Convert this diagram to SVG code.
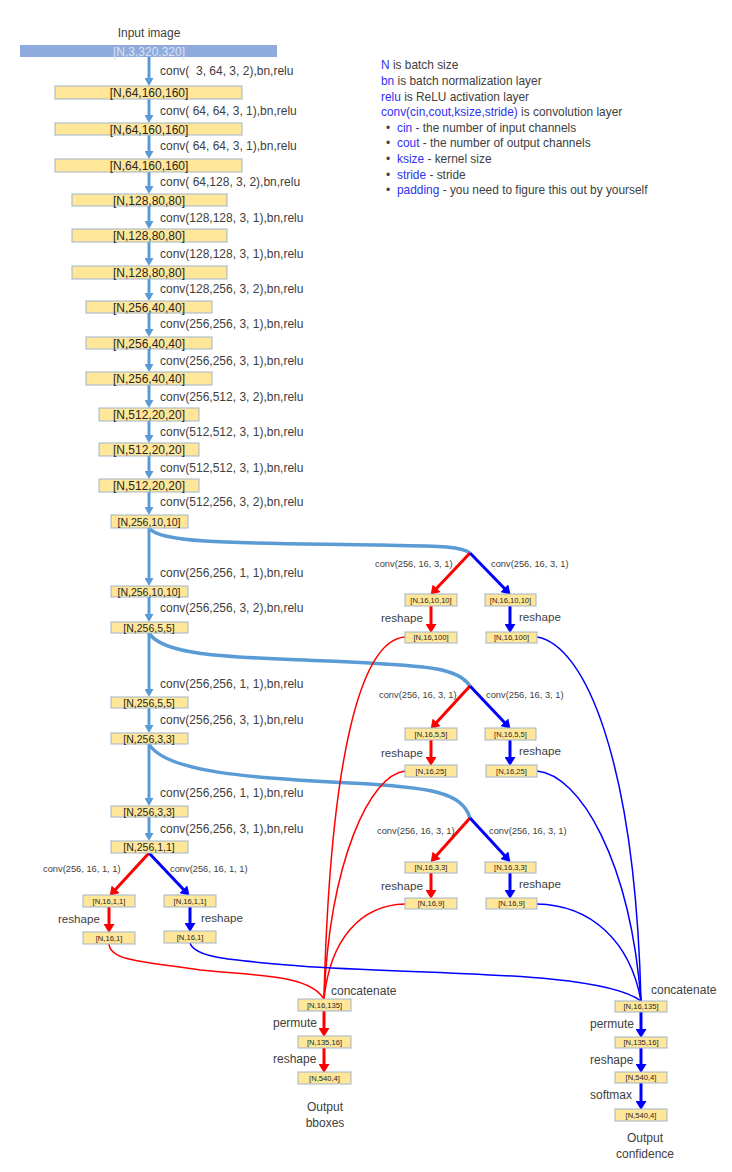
<svg xmlns="http://www.w3.org/2000/svg" width="732" height="1172" viewBox="0 0 732 1172">
  <style>
    text { font-family: "Liberation Sans", Arial, sans-serif; fill: #404040; }
    .box { fill: #ffe699; stroke: #9fb5cc; stroke-width: 1; }
    .bt { font-size: 12px; text-anchor: middle; fill: #262626; }
    .bm { font-size: 10.5px; text-anchor: middle; fill: #262626; }
    .bs { font-size: 7.6px; text-anchor: middle; fill: #262626; }
    .lbl { font-size: 12px; white-space: pre; }
    .sm { font-size: 9.3px; }
    .op { font-size: 11.6px; }
    .leg { font-size: 11.9px; }
    .hl { fill: #3030f0; }
    .trunk { stroke: #5b9bd5; stroke-width: 3; fill: none; marker-end: url(#hLb); }
    .sweep { stroke: #5b9bd5; stroke-width: 3.5; fill: none; }
    .ra { stroke: #ff0000; stroke-width: 3; fill: none; marker-end: url(#hR); }
    .ba { stroke: #0000ff; stroke-width: 3; fill: none; marker-end: url(#hB); }
    .rc { stroke: #ff0000; stroke-width: 1.5; fill: none; }
    .bc { stroke: #0000ff; stroke-width: 1.5; fill: none; }
  </style>
  <defs>
    <marker id="hLb" markerUnits="userSpaceOnUse" markerWidth="9" markerHeight="9" refX="1" refY="4.5" orient="auto">
      <path d="M0,0 L8,4.5 L0,9 z" fill="#5b9bd5"/>
    </marker>
    <marker id="hR" markerUnits="userSpaceOnUse" markerWidth="11" markerHeight="11" refX="1" refY="5.5" orient="auto">
      <path d="M0,0 L9,5.5 L0,11 z" fill="#ff0000"/>
    </marker>
    <marker id="hB" markerUnits="userSpaceOnUse" markerWidth="11" markerHeight="11" refX="1" refY="5.5" orient="auto">
      <path d="M0,0 L9,5.5 L0,11 z" fill="#0000ff"/>
    </marker>
  </defs>
  <rect width="732" height="1172" fill="#ffffff"/>

  <!-- legend -->
  <g id="legend" class="leg">
    <text x="381" y="69"><tspan class="hl">N</tspan> is batch size</text>
    <text x="381" y="85"><tspan class="hl">bn</tspan> is batch normalization layer</text>
    <text x="381" y="101"><tspan class="hl">relu</tspan> is ReLU activation layer</text>
    <text x="381" y="116"><tspan class="hl">conv(cin,cout,ksize,stride)</tspan> is convolution layer</text>
    <text x="386" y="132">•</text><text x="397" y="132"><tspan class="hl">cin</tspan> - the number of input channels</text>
    <text x="386" y="147">•</text><text x="397" y="147"><tspan class="hl">cout</tspan> - the number of output channels</text>
    <text x="386" y="163">•</text><text x="397" y="163"><tspan class="hl">ksize</tspan> - kernel size</text>
    <text x="386" y="179">•</text><text x="397" y="179"><tspan class="hl">stride</tspan> - stride</text>
    <text x="386" y="194">•</text><text x="397" y="194"><tspan class="hl">padding</tspan> - you need to figure this out by yourself</text>
  </g>

  <!-- connectors -->
  <g id="connectors">
    <!-- backbone -->
    <line class="trunk" x1="149" y1="57" x2="149" y2="79"/>
    <line class="trunk" x1="149" y1="99" x2="149" y2="116"/>
    <line class="trunk" x1="149" y1="135" x2="149" y2="152"/>
    <line class="trunk" x1="149" y1="172" x2="149" y2="187"/>
    <line class="trunk" x1="149" y1="206" x2="149" y2="222"/>
    <line class="trunk" x1="149" y1="242" x2="149" y2="259"/>
    <line class="trunk" x1="149" y1="279" x2="149" y2="294"/>
    <line class="trunk" x1="149" y1="313" x2="149" y2="330"/>
    <line class="trunk" x1="149" y1="349" x2="149" y2="365"/>
    <line class="trunk" x1="149" y1="385" x2="149" y2="401"/>
    <line class="trunk" x1="149" y1="421" x2="149" y2="436"/>
    <line class="trunk" x1="149" y1="456" x2="149" y2="472"/>
    <line class="trunk" x1="149" y1="492" x2="149" y2="508"/>
    <line class="trunk" x1="149" y1="528" x2="149" y2="579"/>
    <line class="trunk" x1="149" y1="597" x2="149" y2="615"/>
    <line class="trunk" x1="149" y1="633" x2="149" y2="690"/>
    <line class="trunk" x1="149" y1="708" x2="149" y2="726"/>
    <line class="trunk" x1="149" y1="744" x2="149" y2="799"/>
    <line class="trunk" x1="149" y1="817" x2="149" y2="834"/>

    <!-- side sweeps to heads -->
    <path class="sweep" d="M149,528 C160,545 260,543 380,545 C440,546 462,546 470,553"/>
    <path class="sweep" d="M149,633 C165,660 260,657 350,662 C430,666 458,668 470,686"/>
    <path class="sweep" d="M149,744 C165,772 250,778 350,783 C430,787 462,792 470,818"/>

    <!-- head branches -->
    <line class="ra" x1="470" y1="553" x2="436" y2="589"/>
    <line class="ba" x1="470" y1="553" x2="505" y2="589"/>
    <line class="ra" x1="431" y1="606" x2="431" y2="625"/>
    <line class="ba" x1="510" y1="606" x2="510" y2="625"/>

    <line class="ra" x1="470" y1="686" x2="436" y2="723"/>
    <line class="ba" x1="470" y1="686" x2="505" y2="723"/>
    <line class="ra" x1="431" y1="740" x2="431" y2="758"/>
    <line class="ba" x1="510" y1="740" x2="510" y2="758"/>

    <line class="ra" x1="470" y1="818" x2="436" y2="856"/>
    <line class="ba" x1="470" y1="818" x2="505" y2="856"/>
    <line class="ra" x1="431" y1="873" x2="431" y2="891"/>
    <line class="ba" x1="510" y1="873" x2="510" y2="891"/>

    <line class="ra" x1="149" y1="853" x2="115" y2="890"/>
    <line class="ba" x1="149" y1="853" x2="184" y2="890"/>
    <line class="ra" x1="109" y1="907" x2="109" y2="925"/>
    <line class="ba" x1="190" y1="907" x2="190" y2="924"/>

    <!-- gather to concatenation -->
    <path class="rc" d="M405,637 C360,640 330,760 324,999"/>
    <path class="rc" d="M405,771 C370,775 330,860 324,999"/>
    <path class="rc" d="M405,904 C360,905 330,940 324,999"/>
    <path class="rc" d="M109,944 C110,962 150,962 200,970 C260,976 310,975 324,999"/>
    <path class="bc" d="M537,637 C585,645 635,760 641,1001"/>
    <path class="bc" d="M537,771 C580,775 630,860 641,1001"/>
    <path class="bc" d="M537,904 C590,905 630,940 641,1001"/>
    <path class="bc" d="M190,943 C195,958 230,960 300,966 C420,975 600,970 641,1001"/>

    <!-- output chains -->
    <line class="ra" x1="324" y1="1011" x2="324" y2="1029"/>
    <line class="ra" x1="324" y1="1048" x2="324" y2="1065"/>
    <line class="ba" x1="641" y1="1012" x2="641" y2="1030"/>
    <line class="ba" x1="641" y1="1048" x2="641" y2="1065"/>
    <line class="ba" x1="641" y1="1083" x2="641" y2="1102"/>
  </g>

  <!-- operation labels -->
  <g id="op-labels" class="lbl">
    <text x="160" y="75" xml:space="preserve">conv(  3, 64, 3, 2),bn,relu</text>
    <text x="160" y="115">conv( 64, 64, 3, 1),bn,relu</text>
    <text x="160" y="150">conv( 64, 64, 3, 1),bn,relu</text>
    <text x="160" y="186">conv( 64,128, 3, 2),bn,relu</text>
    <text x="160" y="222">conv(128,128, 3, 1),bn,relu</text>
    <text x="160" y="258">conv(128,128, 3, 1),bn,relu</text>
    <text x="160" y="293">conv(128,256, 3, 2),bn,relu</text>
    <text x="160" y="328">conv(256,256, 3, 1),bn,relu</text>
    <text x="160" y="365">conv(256,256, 3, 1),bn,relu</text>
    <text x="160" y="401">conv(256,512, 3, 2),bn,relu</text>
    <text x="160" y="436">conv(512,512, 3, 1),bn,relu</text>
    <text x="160" y="472">conv(512,512, 3, 1),bn,relu</text>
    <text x="160" y="506">conv(512,256, 3, 2),bn,relu</text>
    <text x="160" y="577">conv(256,256, 1, 1),bn,relu</text>
    <text x="160" y="612">conv(256,256, 3, 2),bn,relu</text>
    <text x="160" y="688">conv(256,256, 1, 1),bn,relu</text>
    <text x="160" y="724">conv(256,256, 3, 1),bn,relu</text>
    <text x="160" y="797">conv(256,256, 1, 1),bn,relu</text>
    <text x="160" y="833">conv(256,256, 3, 1),bn,relu</text>

    <text class="sm" x="375" y="567">conv(256, 16, 3, 1)</text>
    <text class="sm" x="491" y="567">conv(256, 16, 3, 1)</text>
    <text class="sm" x="379" y="698">conv(256, 16, 3, 1)</text>
    <text class="sm" x="486" y="698">conv(256, 16, 3, 1)</text>
    <text class="sm" x="377" y="834">conv(256, 16, 3, 1)</text>
    <text class="sm" x="489" y="834">conv(256, 16, 3, 1)</text>
    <text class="sm" x="43" y="872">conv(256, 16, 1, 1)</text>
    <text class="sm" x="170" y="872">conv(256, 16, 1, 1)</text>

    <text class="op" x="381" y="622">reshape</text>
    <text class="op" x="519" y="621">reshape</text>
    <text class="op" x="381" y="757">reshape</text>
    <text class="op" x="519" y="755">reshape</text>
    <text class="op" x="381" y="890">reshape</text>
    <text class="op" x="519" y="888">reshape</text>
    <text class="op" x="58" y="923">reshape</text>
    <text class="op" x="201" y="922">reshape</text>

    <text x="331" y="995">concatenate</text>
    <text x="273" y="1027">permute</text>
    <text x="273" y="1063">reshape</text>
    <text x="651" y="994">concatenate</text>
    <text x="590" y="1028">permute</text>
    <text x="590" y="1064">reshape</text>
    <text x="590" y="1099">softmax</text>
  </g>

  <!-- input -->
  <g id="input">
    <text class="bt" x="149" y="37" style="fill:#404040">Input image</text>
    <rect x="20" y="45" width="257" height="12" fill="#8faadc"/>
    <text class="bt" x="149" y="55.5" style="fill:#dae3f3">[N,3,320,320]</text>
  </g>

  <!-- backbone feature maps -->
  <g id="n1"><rect class="box" x="55" y="86" width="187" height="13"/><text class="bt" x="149" y="97">[N,64,160,160]</text></g>
  <g id="n2"><rect class="box" x="55" y="123" width="187" height="12"/><text class="bt" x="149" y="133.5">[N,64,160,160]</text></g>
  <g id="n3"><rect class="box" x="55" y="159" width="187" height="13"/><text class="bt" x="149" y="170">[N,64,160,160]</text></g>
  <g id="n4"><rect class="box" x="72" y="194" width="155" height="12"/><text class="bt" x="149" y="204.5">[N,128,80,80]</text></g>
  <g id="n5"><rect class="box" x="72" y="229" width="155" height="13"/><text class="bt" x="149" y="240">[N,128,80,80]</text></g>
  <g id="n6"><rect class="box" x="72" y="266" width="155" height="13"/><text class="bt" x="149" y="277">[N,128,80,80]</text></g>
  <g id="n7"><rect class="box" x="86" y="301" width="126" height="12"/><text class="bt" x="149" y="311.5">[N,256,40,40]</text></g>
  <g id="n8"><rect class="box" x="86" y="337" width="126" height="12"/><text class="bt" x="149" y="347.5">[N,256,40,40]</text></g>
  <g id="n9"><rect class="box" x="86" y="372" width="126" height="13"/><text class="bt" x="149" y="383">[N,256,40,40]</text></g>
  <g id="n10"><rect class="box" x="99" y="408" width="100" height="13"/><text class="bt" x="149" y="419">[N,512,20,20]</text></g>
  <g id="n11"><rect class="box" x="99" y="443" width="100" height="13"/><text class="bt" x="149" y="454">[N,512,20,20]</text></g>
  <g id="n12"><rect class="box" x="99" y="479" width="100" height="13"/><text class="bt" x="149" y="490">[N,512,20,20]</text></g>
  <g id="n13"><rect class="box" x="111" y="515" width="77" height="13"/><text class="bm" x="149" y="525.5">[N,256,10,10]</text></g>
  <g id="n14"><rect class="box" x="111" y="586" width="77" height="11"/><text class="bm" x="149" y="595.5">[N,256,10,10]</text></g>
  <g id="n15"><rect class="box" x="111" y="622" width="77" height="11"/><text class="bm" x="149" y="631.5">[N,256,5,5]</text></g>
  <g id="n16"><rect class="box" x="111" y="697" width="77" height="11"/><text class="bm" x="149" y="706.5">[N,256,5,5]</text></g>
  <g id="n17"><rect class="box" x="111" y="733" width="77" height="11"/><text class="bm" x="149" y="742.5">[N,256,3,3]</text></g>
  <g id="n18"><rect class="box" x="111" y="806" width="77" height="11"/><text class="bm" x="149" y="815.5">[N,256,3,3]</text></g>
  <g id="n19"><rect class="box" x="111" y="841" width="77" height="12"/><text class="bm" x="149" y="851">[N,256,1,1]</text></g>

  <!-- head feature maps -->
  <g id="r1a"><rect class="box" x="405" y="594" width="52" height="12"/><text class="bs" x="431" y="602.7">[N,16,10,10]</text></g>
  <g id="b1a"><rect class="box" x="485" y="594" width="51" height="12"/><text class="bs" x="510.5" y="602.7">[N,16,10,10]</text></g>
  <g id="r1b"><rect class="box" x="405" y="632" width="52" height="11"/><text class="bs" x="431" y="640.2">[N,16,100]</text></g>
  <g id="b1b"><rect class="box" x="486" y="632" width="51" height="11"/><text class="bs" x="511.5" y="640.2">[N,16,100]</text></g>

  <g id="r2a"><rect class="box" x="405" y="728" width="52" height="12"/><text class="bs" x="431" y="736.7">[N,16,5,5]</text></g>
  <g id="b2a"><rect class="box" x="485" y="728" width="51" height="12"/><text class="bs" x="510.5" y="736.7">[N,16,5,5]</text></g>
  <g id="r2b"><rect class="box" x="405" y="765" width="52" height="12"/><text class="bs" x="431" y="773.7">[N,16,25]</text></g>
  <g id="b2b"><rect class="box" x="486" y="765" width="51" height="12"/><text class="bs" x="511.5" y="773.7">[N,16,25]</text></g>

  <g id="r3a"><rect class="box" x="405" y="862" width="52" height="11"/><text class="bs" x="431" y="870.2">[N,16,3,3]</text></g>
  <g id="b3a"><rect class="box" x="485" y="862" width="51" height="11"/><text class="bs" x="510.5" y="870.2">[N,16,3,3]</text></g>
  <g id="r3b"><rect class="box" x="405" y="898" width="52" height="11"/><text class="bs" x="431" y="906.2">[N,16,9]</text></g>
  <g id="b3b"><rect class="box" x="486" y="898" width="51" height="11"/><text class="bs" x="511.5" y="906.2">[N,16,9]</text></g>

  <g id="r4a"><rect class="box" x="83" y="895" width="52" height="12"/><text class="bs" x="109" y="903.7">[N,16,1,1]</text></g>
  <g id="b4a"><rect class="box" x="164" y="895" width="52" height="12"/><text class="bs" x="190" y="903.7">[N,16,1,1]</text></g>
  <g id="r4b"><rect class="box" x="83" y="932" width="52" height="12"/><text class="bs" x="109" y="940.7">[N,16,1]</text></g>
  <g id="b4b"><rect class="box" x="164" y="931" width="52" height="12"/><text class="bs" x="190" y="939.7">[N,16,1]</text></g>

  <!-- box regression output -->
  <g id="bbox-cat"><rect class="box" x="298" y="999" width="53" height="12"/><text class="bs" x="324.5" y="1007.7">[N,16,135]</text></g>
  <g id="bbox-perm"><rect class="box" x="298" y="1036" width="53" height="12"/><text class="bs" x="324.5" y="1044.7">[N,135,16]</text></g>
  <g id="bbox-out"><rect class="box" x="298" y="1072" width="53" height="12"/><text class="bs" x="324.5" y="1080.7">[N,540,4]</text></g>
  <g id="bbox-title">
    <text class="bt" x="325" y="1111" style="fill:#404040">Output</text>
    <text class="bt" x="325" y="1127" style="fill:#404040">bboxes</text>
  </g>

  <!-- confidence output -->
  <g id="conf-cat"><rect class="box" x="615" y="1001" width="52" height="11"/><text class="bs" x="641" y="1009.2">[N,16,135]</text></g>
  <g id="conf-perm"><rect class="box" x="615" y="1037" width="52" height="11"/><text class="bs" x="641" y="1045.2">[N,135,16]</text></g>
  <g id="conf-resh"><rect class="box" x="615" y="1072" width="52" height="11"/><text class="bs" x="641" y="1080.2">[N,540,4]</text></g>
  <g id="conf-out"><rect class="box" x="615" y="1109" width="52" height="12"/><text class="bs" x="641" y="1117.7">[N,540,4]</text></g>
  <g id="conf-title">
    <text class="bt" x="645" y="1142" style="fill:#404040">Output</text>
    <text class="bt" x="645" y="1158" style="fill:#404040">confidence</text>
  </g>
</svg>
